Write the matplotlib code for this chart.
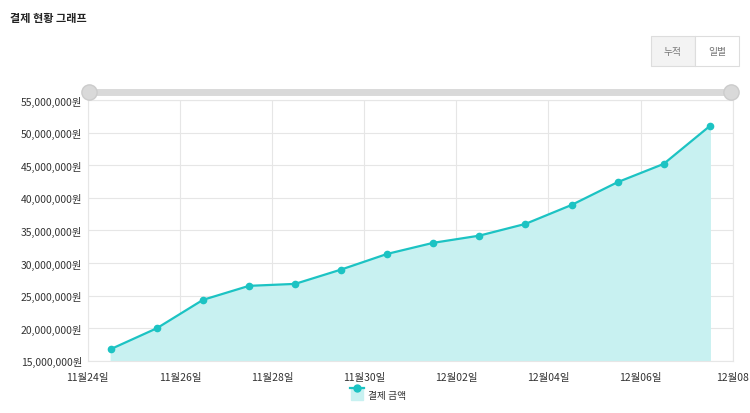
import matplotlib
matplotlib.use("Agg")
import matplotlib.pyplot as plt
import numpy as np
from matplotlib.patches import Rectangle
from matplotlib.lines import Line2D

plt.rcParams['font.family'] = ['Noto Sans CJK KR', 'DejaVu Sans']

days = np.arange(14) + 0.5  # days since 11/24
values = [16.8, 20.0, 24.35, 26.5, 26.8, 29.0, 31.4, 33.1, 34.2, 36.0, 38.9, 42.4, 45.2, 51.0]
values = [v * 1e6 for v in values]
xtick_labels = ["11월24일", "11월26일", "11월28일", "11월30일", "12월02일", "12월04일", "12월06일", "12월08"]
yticks = [15e6, 20e6, 25e6, 30e6, 35e6, 40e6, 45e6, 50e6, 55e6]

color = "#1cc3c3"
fill = "#c8f1f1"

fig = plt.figure(figsize=(7.5, 4.14), dpi=100)
ax = fig.add_axes([0.117, 0.126, 0.86, 0.63])
ax.fill_between(days, values, 15e6, color=fill, zorder=1)
ax.plot(days, values, color=color, lw=1.6, marker='o', ms=4.5, zorder=3)
ax.set_xlim(0, 14)
ax.set_ylim(15e6, 55e6)
ax.set_xticks(np.arange(0, 15, 2))
ax.set_xticklabels(xtick_labels, fontsize=7.5, color="#333")
ax.set_yticks(yticks)
ax.set_yticklabels([f"{int(v):,}원" for v in yticks], fontsize=7.5, color="#333")
ax.grid(True, color="#e6e6e6", lw=0.8)
ax.set_axisbelow(True)
for s in ax.spines.values():
    s.set_color("#e6e6e6")
ax.tick_params(axis='y', length=0, pad=4)
ax.tick_params(axis='x', length=0, pad=8)

fig.text(0.013, 0.955, "결제 현황 그래프", fontsize=8, fontweight='bold', color="#222", va='center')

# toggle buttons
fig.patches.append(Rectangle((651/750, 1-67/414), 44/750, 30/414, transform=fig.transFigure,
                             facecolor="#f3f3f3", edgecolor="#dddddd", lw=0.8))
fig.patches.append(Rectangle((695/750, 1-67/414), 44/750, 30/414, transform=fig.transFigure,
                             facecolor="white", edgecolor="#dddddd", lw=0.8))
fig.text(673/750, 1-52/414, "누적", fontsize=7, color="#777", ha='center', va='center')
fig.text(717/750, 1-52/414, "일별", fontsize=7, color="#777", ha='center', va='center')

# slider
fig.add_artist(Line2D([89/750, 731/750], [1-93/414]*2, color="#d9d9d9", lw=5, solid_capstyle='round'))
for xp in (89, 731):
    fig.add_artist(Line2D([xp/750], [1-93/414], marker='o', ms=11, color="#d9d9d9",
                          markeredgecolor="#cccccc"))

# legend
fig.add_artist(Line2D([357/750], [1-395/414], marker='s', ms=9, color=fill, linestyle='none'))
fig.add_artist(Line2D([350/750, 364/750], [1-389/414]*2, color=color, lw=1.6))
fig.add_artist(Line2D([357/750], [1-389/414], marker='o', ms=5, color=color))
fig.text(368/750, 1-396/414, "결제 금액", fontsize=7, color="#333", va='center')

fig.savefig("out.png", dpi=100, facecolor="white")
